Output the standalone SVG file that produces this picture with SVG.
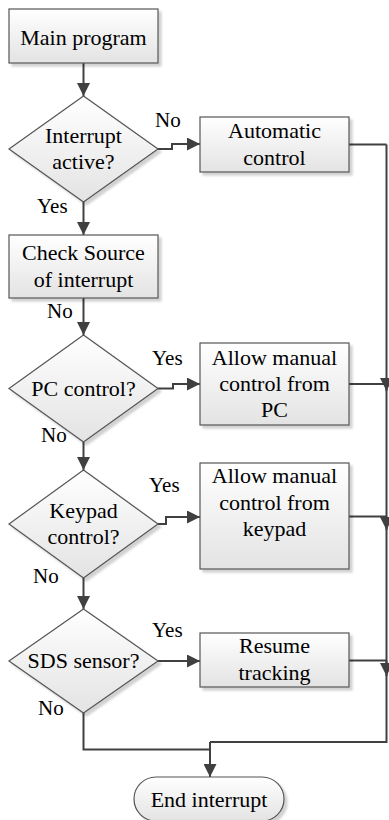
<svg xmlns="http://www.w3.org/2000/svg" width="389" height="820" viewBox="0 0 389 820" font-family="Liberation Serif, DejaVu Serif, serif">
<style>
.shape{fill:url(#g);stroke:#555;stroke-width:1.2;filter:url(#sh)}
.t{font-size:22px;fill:#000;text-anchor:middle}
.l{font-size:21px;fill:#000}
.c{fill:none;stroke:#404040;stroke-width:2}
.a{marker-end:url(#ah)}
</style>
<defs>
<linearGradient id="g" x1="0" y1="0" x2="0" y2="1">
<stop offset="0" stop-color="#ffffff"/>
<stop offset="1" stop-color="#e3e3e3"/>
</linearGradient>
<filter id="sh" x="-10%" y="-10%" width="130%" height="130%">
<feDropShadow dx="3" dy="3" stdDeviation="1" flood-color="#000" flood-opacity="0.18"/>
</filter>
<marker id="ah" viewBox="0 0 13 13" refX="13" refY="6.5" markerWidth="13" markerHeight="13" markerUnits="userSpaceOnUse" orient="auto">
<path d="M0,0 L13,6.5 L0,13 Z" fill="#404040"/>
</marker>
</defs>
<g id="connectors">
<path class="c a" d="M83.5,63 V96"/>
<path class="c a" d="M83.5,202 V235"/>
<path class="c a" d="M83.5,298 V335"/>
<path class="c a" d="M83.5,442 V470"/>
<path class="c a" d="M83.5,578 V609"/>
<path class="c a" d="M158,149 H172 V144 H200"/>
<path class="c a" d="M158,388.5 H173 V384 H200"/>
<path class="c a" d="M158,524 H166 V517 H200"/>
<path class="c a" d="M158,661 H200"/>
<path class="c" d="M349,144.5 H386.5"/>
<path class="c" d="M349,384 H386.5"/>
<path class="c" d="M349,516.5 H386.5"/>
<path class="c" d="M349,660.5 H386.5"/>
<path class="c a" d="M386.5,144.5 V391"/>
<path class="c a" d="M386.5,384 V530"/>
<path class="c a" d="M386.5,516.5 V676"/>
<path class="c" d="M386.5,660.5 V742 H210"/>
<path class="c a" d="M83.5,713 V749.5 H210 V777"/>
<path class="c" d="M210,742 V750"/>
</g>
<g id="main-program">
<rect class="shape" x="9" y="9" width="149" height="54"/>
<text class="t" x="83.5" y="45">Main program</text>
</g>
<g id="interrupt-active">
<polygon class="shape" points="83.5,96 158,149 83.5,202 9,149"/>
<text class="t" x="83.5" y="143">Interrupt</text>
<text class="t" x="83.5" y="169">active?</text>
</g>
<g id="automatic-control">
<rect class="shape" x="200" y="117" width="149" height="55"/>
<text class="t" x="274.5" y="138">Automatic</text>
<text class="t" x="274.5" y="165">control</text>
</g>
<g id="check-source">
<rect class="shape" x="9" y="235" width="149" height="63"/>
<text class="t" x="83.5" y="260">Check Source</text>
<text class="t" x="83.5" y="287">of interrupt</text>
</g>
<g id="pc-control">
<polygon class="shape" points="83.5,335 158,388.5 83.5,442 9,388.5"/>
<text class="t" x="83.5" y="396">PC control?</text>
</g>
<g id="manual-pc">
<rect class="shape" x="200" y="343" width="149" height="82"/>
<text class="t" x="274.5" y="365">Allow manual</text>
<text class="t" x="274.5" y="391">control from</text>
<text class="t" x="274.5" y="417">PC</text>
</g>
<g id="keypad-control">
<polygon class="shape" points="83.5,470 158,524 83.5,578 9,524"/>
<text class="t" x="83.5" y="518">Keypad</text>
<text class="t" x="83.5" y="544">control?</text>
</g>
<g id="manual-keypad">
<rect class="shape" x="200" y="463" width="149" height="106"/>
<text class="t" x="274.5" y="483">Allow manual</text>
<text class="t" x="274.5" y="510">control from</text>
<text class="t" x="274.5" y="536">keypad</text>
</g>
<g id="sds-sensor">
<polygon class="shape" points="83.5,609 158,661 83.5,713 9,661"/>
<text class="t" x="83.5" y="668">SDS sensor?</text>
</g>
<g id="resume-tracking">
<rect class="shape" x="200" y="633" width="149" height="54"/>
<text class="t" x="274.5" y="653">Resume</text>
<text class="t" x="274.5" y="680">tracking</text>
</g>
<g id="end-interrupt">
<rect class="shape" x="134" y="777" width="150" height="44" rx="22" ry="22"/>
<text class="t" x="209" y="807">End interrupt</text>
</g>
<g id="labels">
<text class="l" x="155" y="127">No</text>
<text class="l" x="37" y="213">Yes</text>
<text class="l" x="47" y="318">No</text>
<text class="l" x="152" y="365">Yes</text>
<text class="l" x="41" y="442">No</text>
<text class="l" x="149" y="492">Yes</text>
<text class="l" x="33" y="583">No</text>
<text class="l" x="152" y="637">Yes</text>
<text class="l" x="38" y="715">No</text>
</g>
</svg>
